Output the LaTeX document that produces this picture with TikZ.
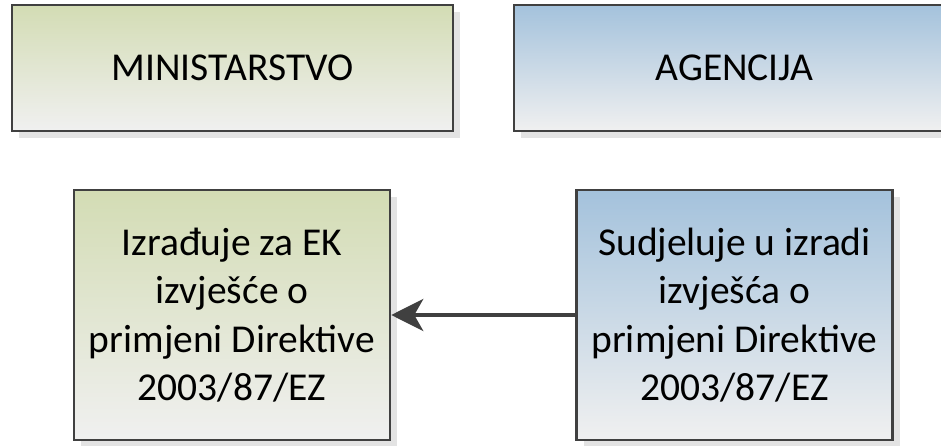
\documentclass[tikz,border=0pt]{standalone}
\usepackage{fontspec}
\setmainfont{Carlito}
\usetikzlibrary{arrows.meta,shadows}
\definecolor{mingreen}{HTML}{D3DCB4}
\definecolor{agblue}{HTML}{A4C2DC}
\definecolor{boxfloor}{HTML}{F0F0F0}
\definecolor{boxline}{HTML}{404040}
\begin{document}
\begin{tikzpicture}[x=1pt,y=-1pt]
    \tikzset{every node/.style={draw=boxline,line width=2.5pt,inner sep=0pt,align=center,
        font=\fontsize{39.5}{48.3}\selectfont,
        drop shadow={shadow xshift=7pt,shadow yshift=-7pt,fill=black!11,opacity=1}},
        greenbox/.style={top color=mingreen,bottom color=boxfloor},
        bluebox/.style={top color=agblue,bottom color=boxfloor},
        headbox/.style={minimum width=441pt,minimum height=126pt},
        taskbox/.style={minimum width=316pt,minimum height=250pt}}
    \useasboundingbox (0,0) rectangle (941,446);

    \node [greenbox,headbox] (min) at (232.5,68) {MINISTARSTVO};
    \node [bluebox,headbox] (agen) at (734.5,68) {AGENCIJA};

    \node [greenbox,taskbox] (izr) at (232,315) {Izrađuje za EK\\izvješće o\\primjeni Direktive\\2003/87/EZ};
    \node [bluebox,taskbox] (sud) at (734.5,315) {Sudjeluje u izradi\\izvješća o\\primjeni Direktive\\2003/87/EZ};

    \draw [boxline,line width=4pt,-{Stealth[length=32pt,width=32pt,inset=9pt]}] (sud.west) -- (izr.east);
\end{tikzpicture}
\end{document}
